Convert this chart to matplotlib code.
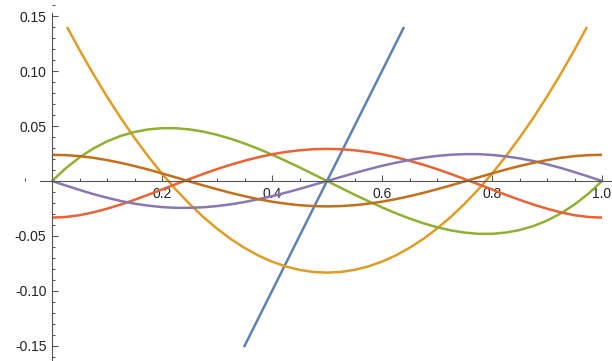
import matplotlib
matplotlib.use("Agg")
import matplotlib.pyplot as plt
from matplotlib.ticker import FixedLocator, MultipleLocator

plt.rcParams['font.family'] = ['Liberation Sans', 'DejaVu Sans']

# sample positions for the curves (step 0.025)
xs = [0.0, 0.025, 0.05, 0.075, 0.1, 0.125, 0.15, 0.175, 0.2, 0.225,
      0.25, 0.275, 0.3, 0.325, 0.35, 0.375, 0.4, 0.425, 0.45, 0.475,
      0.5, 0.525, 0.55, 0.575, 0.6, 0.625, 0.65, 0.675, 0.7, 0.725,
      0.75, 0.775, 0.8, 0.825, 0.85, 0.875, 0.9, 0.925, 0.95, 0.975, 1.0]

# blue straight line (clipped at the plot range)
blue_x = [0.349, 0.64]
blue_y = [-0.151, 0.14]

# orange parabola (clipped at the top)
orange_x = [0.0274] + xs[2:-2] + [0.9726]
orange_y = [0.14, 0.1192, 0.0973, 0.0767, 0.0573, 0.0392, 0.0223, 0.0067, -0.0077,
            -0.0208, -0.0327, -0.0433, -0.0527, -0.0608, -0.0677, -0.0733, -0.0777, -0.0808, -0.0827,
            -0.0833,
            -0.0827, -0.0808, -0.0777, -0.0733, -0.0677, -0.0608, -0.0527, -0.0433, -0.0327, -0.0208,
            -0.0077, 0.0067, 0.0223, 0.0392, 0.0573, 0.0767, 0.0973, 0.1192, 0.14]

green_y = [0.0, 0.0116, 0.0214, 0.0295, 0.036, 0.041, 0.0446, 0.0469, 0.048, 0.048,
           0.0469, 0.0449, 0.042, 0.0384, 0.0341, 0.0293, 0.024, 0.0183, 0.0124, 0.0062,
           0.0,
           -0.0062, -0.0124, -0.0183, -0.024, -0.0293, -0.0341, -0.0384, -0.042, -0.0449,
           -0.0469, -0.048, -0.048, -0.0469, -0.0446, -0.041, -0.036, -0.0295, -0.0214, -0.0116, 0.0]

red_y = [-0.0333, -0.0327, -0.0311, -0.0285, -0.0252, -0.0214, -0.0171, -0.0125, -0.0077, -0.0029,
         0.0018, 0.0064, 0.0108, 0.0148, 0.0184, 0.0216, 0.0243, 0.0264, 0.0279, 0.0289,
         0.0292,
         0.0289, 0.0279, 0.0264, 0.0243, 0.0216, 0.0184, 0.0148, 0.0108, 0.0064,
         0.0018, -0.0029, -0.0077, -0.0125, -0.0171, -0.0214, -0.0252, -0.0285, -0.0311, -0.0327, -0.0333]

purple_y = [0.0, -0.0041, -0.0081, -0.0119, -0.0152, -0.0182, -0.0206, -0.0224, -0.0237, -0.0244,
            -0.0244, -0.0239, -0.0228, -0.0212, -0.0191, -0.0166, -0.0138, -0.0106, -0.0072, -0.0036,
            0.0,
            0.0036, 0.0072, 0.0106, 0.0138, 0.0166, 0.0191, 0.0212, 0.0228, 0.0239,
            0.0244, 0.0244, 0.0237, 0.0224, 0.0206, 0.0182, 0.0152, 0.0119, 0.0081, 0.0041, 0.0]

brown_y = [0.0238, 0.0235, 0.0226, 0.0211, 0.019, 0.0165, 0.0136, 0.0104, 0.0069, 0.0033,
           -0.0004, -0.004, -0.0075, -0.0108, -0.0138, -0.0165, -0.0188, -0.0206, -0.022, -0.0228,
           -0.0231,
           -0.0228, -0.022, -0.0206, -0.0188, -0.0165, -0.0138, -0.0108, -0.0075, -0.004,
           -0.0004, 0.0033, 0.0069, 0.0104, 0.0136, 0.0165, 0.019, 0.0211, 0.0226, 0.0235, 0.0238]

x_ticks = [0.2, 0.4, 0.6, 0.8, 1.0]
y_ticks = [-0.15, -0.10, -0.05, 0.05, 0.10, 0.15]

fig = plt.figure(figsize=(6.12, 3.61), dpi=100)
ax = fig.add_axes([0, 0, 1, 1])

lw = 1.8
style = dict(lw=lw, solid_joinstyle='round', solid_capstyle='butt')
ax.plot(blue_x, blue_y, color='#5E81B5', **style)
ax.plot(orange_x, orange_y, color='#E19C24', **style)
ax.plot(xs, green_y, color='#8FB032', **style)
ax.plot(xs, red_y, color='#EB6235', **style)
ax.plot(xs, purple_y, color='#8778B3', **style)
ax.plot(xs, brown_y, color='#C56E1A', **style)

ax.set_xlim(-0.09455, 1.01818)
ax.set_ylim(-0.16364, 0.16455)

axis_col = '#555555'
for s in ['top', 'right']:
    ax.spines[s].set_visible(False)
ax.spines['left'].set_position(('data', 0))
ax.spines['bottom'].set_position(('data', 0))
ax.spines['left'].set_bounds(-0.1636, 0.153)
ax.spines['bottom'].set_bounds(-0.022, 1.0182)
for s in ['left', 'bottom']:
    ax.spines[s].set_color(axis_col)
    ax.spines[s].set_linewidth(0.8)

ax.xaxis.set_major_locator(FixedLocator(x_ticks))
ax.xaxis.set_minor_locator(MultipleLocator(0.05))
ax.yaxis.set_major_locator(FixedLocator(y_ticks))
ax.yaxis.set_minor_locator(MultipleLocator(0.01))
ax.set_xticklabels(['%.1f' % t for t in x_ticks])
ax.set_yticklabels(['%.2f' % t for t in y_ticks])

ax.tick_params(which='both', direction='in', color=axis_col, width=0.8,
               labelsize=10, labelcolor='#222222')
ax.tick_params(which='major', length=4.5, pad=4)
ax.tick_params(which='minor', length=2.3)

plt.savefig('out.png', dpi=100)
